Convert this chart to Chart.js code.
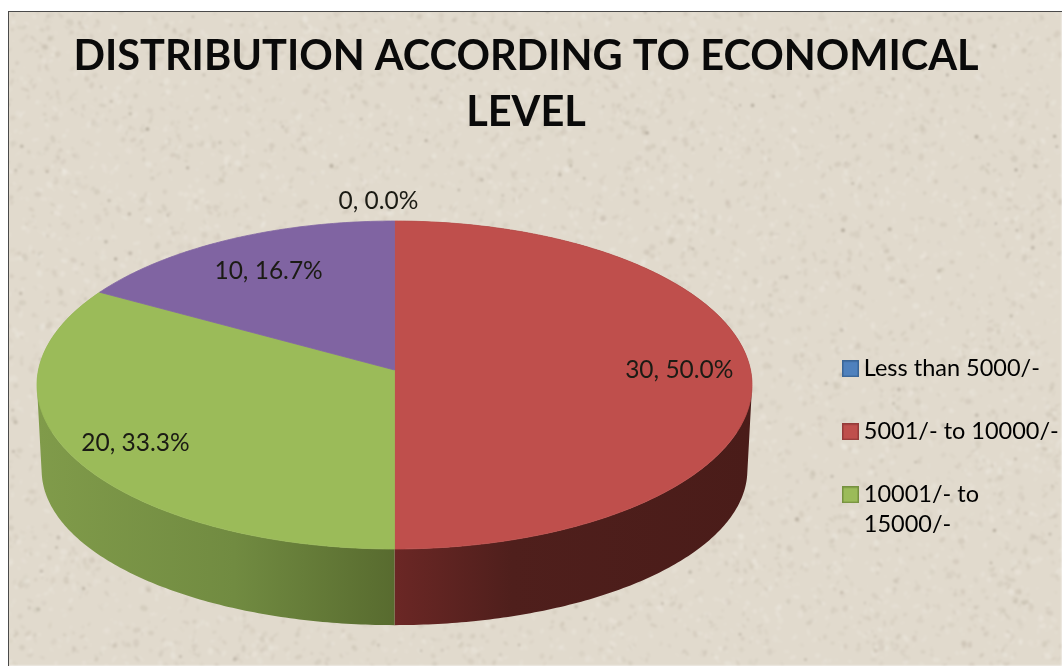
<!DOCTYPE html>
<html>
<head>
<meta charset="utf-8">
<title>Distribution according to economical level</title>
<script src="https://cdn.jsdelivr.net/npm/chart.js@4/dist/chart.umd.js"></script>
<style>
  html, body { margin: 0; padding: 0; background: #fff; overflow: hidden; }
  #wrap { position: relative; width: 1062px; height: 666px; }
  canvas { display: block; }
</style>
</head>
<body>
<div id="wrap"><canvas id="pie" width="1062" height="666"></canvas></div>
<script>
// Survey values
const categories = [['Less than 5000/-'], ['5001/- to 10000/-'], ['10001/- to', '15000/-'], ['Above 15000/-']];
const respondents = [0, 30, 20, 10];
const titleLines = ['DISTRIBUTION ACCORDING TO ECONOMICAL', 'LEVEL'];

// Slice styling
const topColors = ['#4f81bd', '#bf4f4c', '#9bbb59', '#8064a2'];
const swatchBorders = ['#3a6596', '#943b39', '#76913f', '#604a7b'];
const wallStops = [
  null,
  [[0, '#6b2725'], [0.33, '#4f1f1c'], [1, '#4a1c19']],
  [[0, '#809b4a'], [0.55, '#718b41'], [1, '#586b2f']],
  null
];
const shownInLegend = [0, 1, 2];

// Camera model for the tilted disc: a projective map of the unit circle.
const cam = { cx: 394.5, apexY: 370, xScale: 356, yScale: 162.6, k: 0.0915 };
const wallBase = { xRatio: 0.987, yRatio: 0.945, apexY: 456 };
const total = respondents.reduce((a, b) => a + b, 0);

function rimPoint(theta, r = 1) {
  const w = 1 + cam.k * r * Math.cos(theta);
  return {
    x: cam.cx + cam.xScale * r * Math.sin(theta) / w,
    y: cam.apexY - cam.yScale * r * Math.cos(theta) / w
  };
}
function basePoint(theta) {
  const w = 1 + cam.k * Math.cos(theta);
  return {
    x: cam.cx + cam.xScale * wallBase.xRatio * Math.sin(theta) / w,
    y: wallBase.apexY - cam.yScale * wallBase.yRatio * Math.cos(theta) / w
  };
}
const thetaOf = angle => angle + Math.PI / 2;

// Arc elements render as projected sectors rather than flat circle sectors.
Chart.ArcElement.prototype.draw = function (ctx) {
  const a = thetaOf(this.startAngle), b = thetaOf(this.endAngle);
  if (b - a < 1e-6) return;
  ctx.save();
  ctx.beginPath();
  ctx.moveTo(cam.cx, cam.apexY);
  const steps = Math.ceil((b - a) * 80);
  for (let i = 0; i <= steps; i++) {
    const p = rimPoint(a + (b - a) * i / steps);
    ctx.lineTo(p.x, p.y);
  }
  ctx.closePath();
  ctx.fillStyle = this.options.backgroundColor;
  ctx.fill();
  ctx.lineWidth = 0.8;
  ctx.strokeStyle = this.options.borderColor;
  ctx.stroke();
  ctx.restore();
};

// Deterministic speckled paper behind everything: speckles first, one blur pass after.
function paperTexture(w, h) {
  const raw = document.createElement('canvas');
  raw.width = w; raw.height = h;
  const g = raw.getContext('2d');
  g.fillStyle = '#e1dacd';
  g.fillRect(0, 0, w, h);
  let s = 48271;
  const next = () => (s = (s * 16807) % 2147483647) / 2147483647;
  for (let i = 0; i < 9000; i++) {
    const light = next() > 0.5;
    g.fillStyle = light ? `rgba(240,236,228,${0.12 + next() * 0.28})` : `rgba(182,172,156,${0.08 + next() * 0.2})`;
    g.beginPath();
    g.ellipse(next() * w, next() * h, 0.8 + next() * 3.2, 0.8 + next() * 2.2, next() * 3, 0, 7);
    g.fill();
  }
  for (let i = 0; i < 220; i++) {
    g.fillStyle = `rgba(125,115,100,${0.16 + next() * 0.28})`;
    g.beginPath();
    g.arc(next() * w, next() * h, 0.9 + next() * 1.2, 0, 7);
    g.fill();
  }
  const c = document.createElement('canvas');
  c.width = w; c.height = h;
  const out = c.getContext('2d');
  out.filter = 'blur(1.2px)';
  out.drawImage(raw, 0, 0);
  out.filter = 'none';
  return c;
}
const paper = paperTexture(1062, 666);

const backdrop = {
  id: 'backdrop',
  beforeDraw(chart) {
    const ctx = chart.ctx;
    ctx.save();
    ctx.fillStyle = '#fff';
    ctx.fillRect(0, 0, 1062, 666);
    ctx.drawImage(paper, 9, 12, 1053, 654, 9, 12, 1053, 654);
    ctx.fillStyle = '#4a4a4a';
    ctx.fillRect(8, 11, 1054, 1);
    ctx.fillRect(8, 11, 1, 655);
    ctx.restore();
  }
};

// Outer wall of the disc, painted before the top faces. Each short step of the
// rim is swept down to the base, and the steps are filled together as one path.
const walls = {
  id: 'walls',
  beforeDatasetsDraw(chart) {
    const ctx = chart.ctx;
    chart.getDatasetMeta(0).data.forEach((el, i) => {
      const stops = wallStops[i];
      if (!stops) return;
      const a = thetaOf(el.startAngle), b = thetaOf(el.endAngle);
      const steps = Math.ceil((b - a) * 80);
      const grad = i === 1
        ? ctx.createLinearGradient(cam.cx, 0, cam.cx + 356, 0)
        : ctx.createLinearGradient(cam.cx - 356, 0, cam.cx, 0);
      stops.forEach(([o, col]) => grad.addColorStop(o, col));
      ctx.save();
      ctx.beginPath();
      for (let n = 0; n < steps; n++) {
        const t0 = a + (b - a) * n / steps, t1 = a + (b - a) * (n + 1) / steps;
        let quad = [rimPoint(t0), rimPoint(t1), basePoint(t1), basePoint(t0)];
        const area = quad.reduce((sum, p, j) => {
          const q = quad[(j + 1) % 4];
          return sum + p.x * q.y - q.x * p.y;
        }, 0);
        if (area < 0) quad = quad.reverse();
        quad.forEach((p, j) => j ? ctx.lineTo(p.x, p.y) : ctx.moveTo(p.x, p.y));
        ctx.closePath();
      }
      ctx.fillStyle = grad;
      ctx.fill('nonzero');
      ctx.restore();
    });
  }
};

// "value, percent" labels at a fixed share of the radius.
const labelReach = [1.15, 0.8, 0.8, 0.8];
const labelShift = [[-16, 0], [0, 0], [-3, 6], [8, 7]];
const sliceLabels = {
  id: 'sliceLabels',
  afterDatasetsDraw(chart) {
    const ctx = chart.ctx;
    ctx.save();
    ctx.font = '400 24.5px Lato';
    ctx.fillStyle = '#1b1b14';
    ctx.textAlign = 'center';
    ctx.textBaseline = 'middle';
    chart.getDatasetMeta(0).data.forEach((el, i) => {
      const mid = thetaOf((el.startAngle + el.endAngle) / 2);
      const p = rimPoint(mid, labelReach[i]);
      const pct = (respondents[i] / total * 100).toFixed(1);
      ctx.fillText(`${respondents[i]}, ${pct}%`, p.x + labelShift[i][0], p.y + labelShift[i][1]);
    });
    ctx.restore();
  }
};

// Legend column sits close to the right edge, past the title's centring margin.
const placeLegend = {
  id: 'placeLegend',
  afterLayout(chart) {
    const lg = chart.legend;
    const dx = 816 - lg.left, dy = 324 - lg.top;
    lg.left += dx; lg.right += dx; lg.top += dy; lg.bottom += dy;
    lg.legendHitBoxes.forEach(b => { b.left += dx; b.top += dy; });
  }
};

function swatch(fill, border) {
  const c = document.createElement('canvas');
  c.width = 17; c.height = 17;
  const g = c.getContext('2d');
  g.fillStyle = fill;
  g.fillRect(0, 0, 17, 17);
  g.strokeStyle = border;
  g.lineWidth = 1.5;
  g.strokeRect(0.75, 0.75, 15.5, 15.5);
  return c;
}

new Chart(document.getElementById('pie'), {
  type: 'pie',
  data: {
    labels: categories.map(c => c.join(' ')),
    datasets: [{
      data: respondents,
      backgroundColor: topColors,
      borderColor: topColors
    }]
  },
  plugins: [backdrop, walls, sliceLabels, placeLegend],
  options: {
    responsive: false,
    animation: false,
    devicePixelRatio: 1,
    layout: { padding: { right: 10, top: 28 } },
    plugins: {
      tooltip: { enabled: false },
      title: {
        display: true,
        text: titleLines,
        color: '#0a0a0a',
        font: { family: 'Lato', size: 41.5, weight: '700', lineHeight: 1.36 },
        padding: { top: 0, bottom: 10 }
      },
      legend: {
        display: true,
        position: 'right',
        align: 'start',
        onClick: null,
        labels: {
          color: '#1b1b14',
          font: { family: 'Lato', size: 23.5, lineHeight: 1.277 },
          usePointStyle: true,
          pointStyleWidth: 3,
          boxHeight: 17,
          padding: 33,
          generateLabels: () => shownInLegend.map(i => ({
            text: categories[i],
            fillStyle: topColors[i],
            strokeStyle: swatchBorders[i],
            lineWidth: 1,
            pointStyle: swatch(topColors[i], swatchBorders[i]),
            index: i
          }))
        }
      }
    }
  }
});
</script>
</body>
</html>
